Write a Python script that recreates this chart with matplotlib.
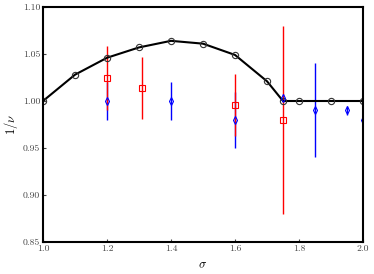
import numpy as np
import matplotlib
matplotlib.use("Agg")
import matplotlib.pyplot as plt

plt.rcParams['font.family'] = 'serif'
plt.rcParams['font.serif'] = ['cmr10']
plt.rcParams['mathtext.fontset'] = 'cm'
plt.rcParams['axes.formatter.use_mathtext'] = True

# black curve
sig_line = [1.0, 1.1, 1.2, 1.3, 1.4, 1.5, 1.6, 1.7, 1.75, 1.8, 1.9, 2.0]
nu_line = [1.0, 1.028, 1.046, 1.057, 1.064, 1.061, 1.049, 1.021, 1.0, 1.0, 1.0, 1.0]

# red squares
sig_red = [1.2, 1.31, 1.6, 1.75]
nu_red = [1.024, 1.014, 0.996, 0.980]
err_red = [0.034, 0.033, 0.033, 0.100]

# blue diamonds
sig_blue = [1.2, 1.4, 1.6, 1.75, 1.85, 1.95, 2.0]
nu_blue = [1.0, 1.0, 0.980, 1.003, 0.990, 0.990, 0.980]
err_blue = [0.02, 0.02, 0.03, 0.004, 0.05, 0.005, 0.002]

fig = plt.figure(figsize=(3.74, 2.74), dpi=100)
ax = fig.add_axes([43 / 374, 32 / 274, 320 / 374, 235 / 274])

ax.errorbar(sig_blue, nu_blue, yerr=err_blue, fmt='d', color='blue', mfc='none',
            ms=4, lw=1, capsize=0, mew=0.8)
ax.errorbar(sig_red, nu_red, yerr=err_red, fmt='s', color='red', mfc='none',
            ms=5, lw=1, capsize=0, mew=0.8)
ax.plot(sig_line, nu_line, '-', color='black', lw=1.5)
ax.plot(sig_line, nu_line, 'o', color='#333333', mfc='none', ms=4.5, mew=0.8)

ax.set_xlim(1.0, 2.0)
ax.set_ylim(0.85, 1.10)
ax.set_xticks([1.0, 1.2, 1.4, 1.6, 1.8, 2.0])
ax.set_yticks([0.85, 0.90, 0.95, 1.00, 1.05, 1.10])
ax.set_xticklabels(['1.0', '1.2', '1.4', '1.6', '1.8', '2.0'])
ax.set_yticklabels(['0.85', '0.90', '0.95', '1.00', '1.05', '1.10'])
ax.tick_params(direction='in', length=2, labelsize=7, colors='#444444', pad=2)
for s in ax.spines.values():
    s.set_linewidth(1.5)
ax.set_xlabel(r'$\sigma$', fontsize=9, labelpad=4)
ax.set_ylabel(r'$1/\nu$', fontsize=9, labelpad=2)

fig.savefig('out.png', dpi=100)
